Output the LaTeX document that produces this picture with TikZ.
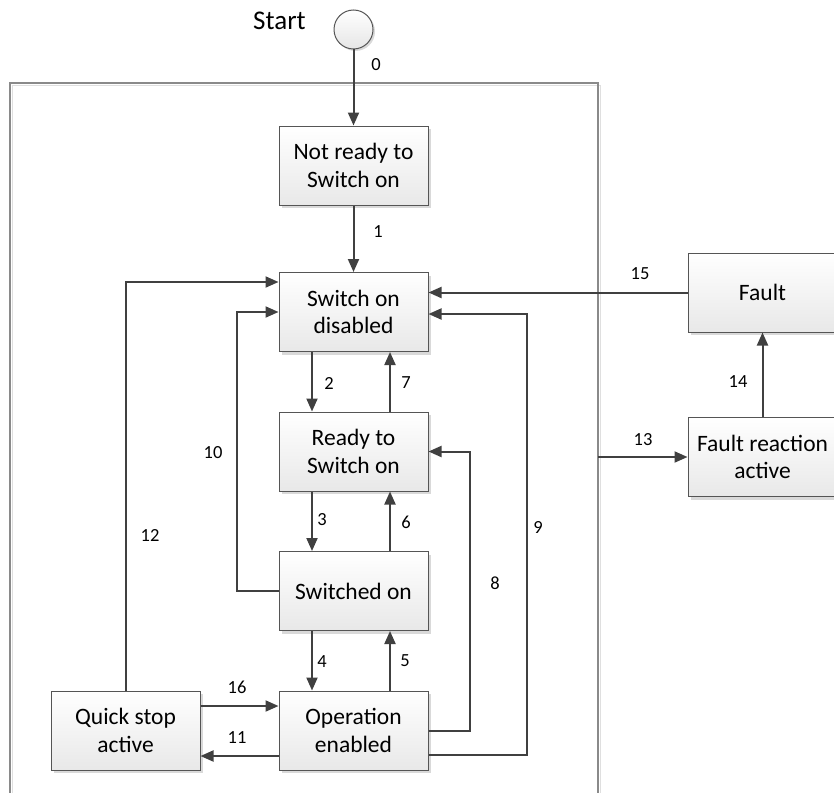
\documentclass[tikz,border=0pt]{standalone}
\usepackage{fontspec}
\setmainfont{Carlito}
\usetikzlibrary{shadows,arrows.meta}
\definecolor{edge}{HTML}{404040}
\definecolor{boxline}{HTML}{555555}
\definecolor{framec}{HTML}{8A8A8A}
\begin{document}
\begin{tikzpicture}[x=1pt,y=-1pt,
  state/.style={draw=boxline, line width=1pt, top color=white, bottom color=gray!18,
    minimum width=149pt, minimum height=79pt, align=center, inner sep=0pt,
    font=\fontsize{23.5}{27.5}\selectfont,
    drop shadow={shadow xshift=3pt, shadow yshift=-3pt, fill=gray!30, opacity=1}},
  conn/.style={draw=edge, line width=2pt, -{Triangle[length=13pt,width=11pt]}},
  lbl/.style={font=\fontsize{18.5}{22}\selectfont, inner sep=0pt, text=black}]
\useasboundingbox (0,0) rectangle (834,792);
% frame
\draw[gray!25, line width=1pt] (12,800) -- (12,85) -- (600,85) -- (600,800);
\draw[framec, line width=1.1pt] (10,800) -- (10,83) -- (598,83) -- (598,800);
% start
\node[circle, draw=boxline, line width=1pt, minimum size=39pt, inner sep=0pt,
  top color=white, bottom color=gray!20,
  drop shadow={shadow xshift=2pt, shadow yshift=-2pt, fill=gray!30, opacity=1}] (start) at (353.5,29.5) {};
\node[font=\fontsize{27}{31}\selectfont, inner sep=0pt] (starttxt) at (279.5,21) {Start};
% states
\node[state] (nr)  at (353.5,165.5) {Not ready to\\Switch on};
\node[state] (sod) at (353.5,312)   {Switch on\\disabled};
\node[state] (rdy) at (353.5,451.5) {Ready to\\Switch on};
\node[state] (swo) at (353.5,591)   {Switched on};
\node[state] (ope) at (353.5,730.5) {Operation\\enabled};
\node[state] (qs)  at (125.5,730.5) {Quick stop\\active};
\node[state] (flt) at (762.5,292.5) {Fault};
\node[state] (fra) at (762.5,457)   {Fault reaction\\active};
\coordinate (f13) at (598,457);
% connectors
\draw[conn] (start) -- (nr);
\draw[conn] (nr) -- (sod);
\draw[conn] ([xshift=-41.5pt]sod.south) -- ([xshift=-41.5pt]rdy.north);
\draw[conn] ([xshift=36.5pt]rdy.north) -- ([xshift=36.5pt]sod.south);
\draw[conn] ([xshift=-41.5pt]rdy.south) -- ([xshift=-41.5pt]swo.north);
\draw[conn] ([xshift=36.5pt]swo.north) -- ([xshift=36.5pt]rdy.south);
\draw[conn] ([xshift=-41.5pt]swo.south) -- ([xshift=-41.5pt]ope.north);
\draw[conn] ([xshift=36.5pt]ope.north) -- ([xshift=36.5pt]swo.south);
\draw[conn] (ope.east) -- ++(41,0) |- (rdy.east);
\draw[conn] ([yshift=-24.5pt]ope.east) -- ++(98,0) |- ([yshift=-2pt]sod.east);
\draw[conn] (swo.west) -- ++(-42,0) |- (sod.west);
\draw[conn] (qs.north) |- ([yshift=30pt]sod.west);
\draw[conn] ([yshift=24.5pt]qs.east) -- ([yshift=24.5pt]ope.west);
\draw[conn] ([yshift=-25.5pt]ope.west) -- ([yshift=-25.5pt]qs.east);
\draw[conn] (flt.west) -- (flt.west -| sod.east);
\draw[conn] (f13) -- (fra.west);
\draw[conn] (fra.north) -- (flt.south);
% labels
\node[lbl] (l0)  at (376,65)  {0};
\node[lbl] (l1)  at (378,232) {1};
\node[lbl] (l2)  at (329,383) {2};
\node[lbl] (l7)  at (406,383) {7};
\node[lbl] (l3)  at (322,520) {3};
\node[lbl] (l6)  at (406,522) {6};
\node[lbl] (l4)  at (322,662) {4};
\node[lbl] (l5)  at (405,661) {5};
\node[lbl] (l8)  at (495,583) {8};
\node[lbl] (l9)  at (538,527) {9};
\node[lbl] (l10) at (213,453) {10};
\node[lbl] (l12) at (150,535) {12};
\node[lbl] (l16) at (237,687) {16};
\node[lbl] (l11) at (237,738) {11};
\node[lbl] (l15) at (640,274) {15};
\node[lbl] (l13) at (643,440) {13};
\node[lbl] (l14) at (738,382) {14};
\end{tikzpicture}
\end{document}
